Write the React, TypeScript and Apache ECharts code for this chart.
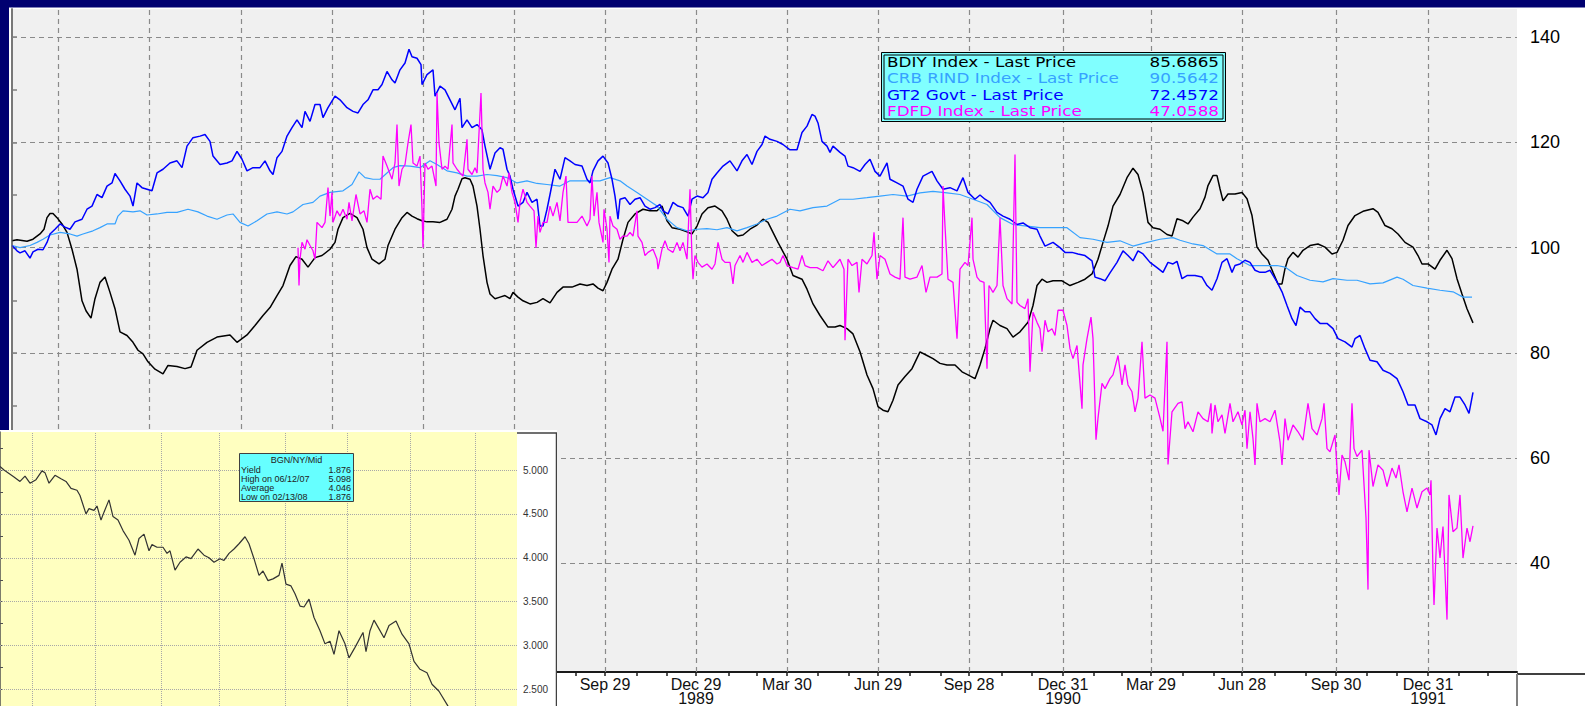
import React, { useEffect, useRef } from 'react';
import * as echarts from 'echarts';

// ---------- main chart data: [day offset from 1988-02-14, value] ----------
const BDIY: [number, number][] = [
  [0,101.3],[5,101.5],[15,101.2],[21,101.6],[28,102.6],[32,103.5],[35,105.7],[38,106.5],[41,106.5],[45,105.7],[50,104.5],[55,102.9],[60,99.7],[65,95.9],[70,89.9],[74,88.0],[79,86.6],[83,90.3],[88,93.4],[93,94.4],[98,91.5],[103,88.4],[108,84.0],[115,83.3],[121,82.0],[126,80.5],[131,79.8],[136,78.3],[143,76.9],[151,76.0],[156,77.6],[165,77.4],[173,77.0],[179,77.3],[185,80.5],[195,82.0],[205,83.0],[218,83.4],[225,82.0],[235,83.4],[243,85.2],[251,87.1],[258,88.6],[265,90.9],[271,92.8],[278,96.6],[284,98.3],[290,97.8],[296,96.3],[303,98.1],[310,98.5],[318,99.7],[323,101.0],[326,103.5],[331,105.7],[338,106.5],[345,105.7],[351,103.5],[355,100.0],[360,97.8],[367,96.9],[373,97.8],[376,100.4],[383,103.5],[390,105.7],[395,106.7],[400,106.0],[405,105.5],[410,105.1],[415,104.9],[421,104.9],[428,104.8],[435,105.4],[440,107.3],[443,109.8],[446,111.1],[450,113.1],[453,113.3],[458,113.0],[461,111.7],[465,107.9],[468,103.5],[471,98.5],[475,93.4],[478,91.2],[483,90.3],[488,90.6],[493,90.9],[498,90.3],[501,91.5],[506,90.6],[511,89.9],[518,89.3],[525,89.6],[531,90.3],[538,89.5],[545,91.5],[551,92.5],[560,92.5],[568,93.1],[575,92.8],[581,93.1],[586,92.3],[591,91.8],[595,93.4],[600,95.9],[606,97.8],[611,101.6],[616,104.8],[623,106.4],[631,107.3],[638,107.0],[645,107.0],[650,107.9],[655,105.1],[660,103.8],[668,103.5],[675,103.0],[680,102.6],[685,104.1],[690,106.4],[696,107.6],[703,107.9],[710,107.0],[715,105.4],[720,103.2],[726,102.2],[731,102.4],[738,103.5],[745,104.3],[751,105.4],[756,104.8],[761,102.9],[766,101.0],[775,97.8],[781,94.7],[790,94.0],[795,92.1],[801,89.3],[808,87.1],[816,84.9],[823,84.9],[828,85.2],[835,84.6],[841,83.6],[848,80.2],[855,75.8],[861,73.2],[866,69.8],[871,69.1],[876,68.8],[881,71.0],[886,73.9],[893,75.5],[900,77.0],[908,80.2],[915,79.5],[921,78.9],[928,78.0],[935,77.7],[943,77.7],[950,76.4],[956,75.8],[963,75.1],[968,77.7],[973,80.8],[978,84.6],[981,86.2],[988,85.2],[995,84.6],[1001,83.0],[1008,84.0],[1016,85.8],[1021,89.0],[1025,92.8],[1030,94.0],[1035,93.4],[1041,93.7],[1050,93.7],[1058,92.8],[1066,93.4],[1073,94.0],[1080,95.0],[1086,97.8],[1091,101.0],[1096,104.1],[1101,107.9],[1108,110.1],[1115,113.3],[1121,115.1],[1126,113.9],[1131,110.4],[1136,104.8],[1141,103.8],[1148,103.5],[1155,102.5],[1160,102.2],[1165,105.5],[1171,105.1],[1176,104.5],[1181,105.8],[1188,107.4],[1193,109.6],[1196,111.8],[1201,113.7],[1205,113.7],[1208,111.2],[1211,108.9],[1216,110.2],[1223,110.2],[1230,110.5],[1235,109.3],[1240,106.1],[1245,100.1],[1250,98.8],[1256,97.6],[1261,95.3],[1266,93.1],[1270,93.1],[1273,96.0],[1276,97.9],[1281,99.1],[1286,98.2],[1291,99.5],[1298,100.4],[1306,100.7],[1313,100.1],[1320,98.8],[1325,99.1],[1331,101.4],[1336,104.2],[1343,106.1],[1351,106.9],[1361,107.4],[1366,106.7],[1373,104.2],[1380,103.6],[1386,102.6],[1393,101.0],[1401,100.1],[1406,98.5],[1410,96.9],[1416,96.9],[1423,95.9],[1428,97.6],[1435,99.5],[1440,97.9],[1445,94.1],[1450,91.2],[1455,88.4],[1461,85.7],
];

const CRB: [number, number][] = [
  [0,100.4],[8,100.0],[18,100.4],[25,101.0],[31,101.6],[38,102.4],[48,102.9],[58,102.6],[65,102.2],[71,102.6],[81,103.2],[88,103.8],[95,104.5],[103,104.5],[106,106.0],[111,107.0],[121,106.8],[128,107.0],[135,106.2],[145,106.4],[155,106.7],[165,106.7],[176,107.3],[186,106.8],[195,106.0],[205,105.4],[215,106.2],[221,106.4],[228,104.8],[236,104.1],[245,105.1],[255,106.4],[265,106.8],[275,106.4],[281,106.8],[291,108.2],[301,108.6],[308,109.8],[318,110.5],[331,110.8],[340,112.0],[347,114.4],[353,113.3],[361,113.0],[368,113.0],[375,114.2],[381,115.2],[388,115.6],[398,115.5],[408,115.2],[418,116.5],[425,115.8],[435,114.6],[445,114.2],[455,113.6],[465,113.6],[475,113.9],[485,113.7],[495,113.3],[505,112.3],[515,112.7],[525,112.2],[535,112.0],[548,111.7],[558,112.7],[568,112.7],[578,112.7],[588,112.7],[598,113.3],[608,112.7],[615,111.7],[625,110.5],[635,109.2],[645,107.9],[655,105.4],[665,103.8],[675,103.2],[685,103.5],[695,103.6],[705,103.4],[715,103.8],[725,103.2],[735,103.8],[745,104.5],[755,105.4],[765,106.0],[778,107.3],[788,107.0],[801,107.6],[815,107.9],[828,109.2],[841,109.2],[855,109.5],[868,109.8],[881,110.1],[895,109.8],[908,110.4],[921,110.7],[935,110.4],[948,110.1],[961,109.2],[975,108.2],[988,105.7],[1001,104.4],[1015,104.1],[1028,103.8],[1041,103.8],[1055,103.8],[1068,101.9],[1081,101.6],[1095,101.0],[1108,101.3],[1121,100.3],[1135,101.0],[1148,101.6],[1161,101.9],[1168,101.4],[1181,100.7],[1191,100.4],[1205,98.8],[1218,98.8],[1225,97.9],[1238,96.6],[1251,96.6],[1265,96.6],[1273,96.3],[1285,94.7],[1298,93.8],[1311,93.5],[1321,94.1],[1335,93.8],[1345,93.8],[1358,93.1],[1371,93.3],[1385,94.4],[1391,94.0],[1401,92.8],[1415,92.3],[1428,91.9],[1441,91.6],[1451,90.6],[1460,90.6],
];

const GT2: [number, number][] = [
  [0,100.4],[5,99.4],[8,99.0],[13,99.4],[18,98.0],[21,99.2],[26,99.7],[31,99.6],[35,101.0],[38,102.6],[43,103.5],[48,104.5],[53,103.9],[58,103.5],[63,104.9],[70,105.4],[75,107.3],[80,107.9],[85,110.1],[90,109.5],[95,111.7],[100,112.3],[103,114.1],[108,112.7],[113,111.1],[118,109.8],[121,107.9],[125,112.3],[130,111.4],[135,111.1],[140,110.8],[145,114.2],[151,114.9],[158,116.1],[165,116.5],[170,115.2],[175,119.3],[181,120.9],[188,121.2],[193,121.5],[198,120.2],[201,117.4],[208,115.8],[215,116.1],[220,116.5],[225,118.3],[230,116.8],[235,114.6],[241,115.2],[248,115.2],[253,116.5],[258,114.6],[261,113.9],[265,117.1],[270,118.3],[275,121.2],[280,122.8],[285,124.3],[290,122.8],[293,125.9],[298,124.0],[303,127.2],[308,127.2],[311,124.7],[316,126.6],[323,128.8],[328,128.1],[335,126.6],[341,125.9],[346,125.6],[351,127.2],[356,128.1],[361,130.0],[366,130.0],[370,131.0],[375,133.5],[380,131.9],[383,131.3],[388,133.8],[393,135.1],[397,137.7],[400,136.3],[405,136.0],[409,134.8],[410,131.0],[415,132.9],[421,133.8],[423,128.8],[428,130.7],[433,130.0],[438,128.1],[443,126.2],[448,128.4],[450,122.8],[455,124.3],[460,122.8],[465,123.4],[470,122.4],[473,119.3],[478,114.9],[483,118.0],[488,119.0],[491,118.7],[495,114.9],[498,113.6],[501,111.1],[506,107.9],[511,108.6],[515,110.5],[520,108.6],[525,109.2],[528,104.1],[531,104.1],[535,107.3],[538,110.1],[543,114.9],[548,113.0],[553,117.1],[558,116.5],[563,115.8],[570,115.5],[575,113.0],[578,112.3],[581,114.6],[586,116.5],[591,117.4],[596,116.1],[600,113.0],[603,109.8],[606,105.4],[608,109.2],[613,109.5],[618,108.2],[623,109.2],[628,109.5],[633,107.9],[638,107.3],[643,107.6],[648,108.2],[651,107.0],[656,106.4],[661,108.6],[666,107.9],[671,107.6],[676,106.0],[680,109.2],[685,109.8],[691,109.5],[696,110.5],[700,113.0],[705,114.2],[711,115.5],[718,116.5],[725,114.6],[730,116.5],[735,117.7],[740,115.8],[745,118.3],[750,119.6],[753,121.2],[758,120.6],[765,120.2],[771,119.6],[778,118.6],[785,118.6],[790,121.9],[795,123.1],[800,125.3],[803,125.0],[806,123.7],[810,120.2],[815,119.3],[818,118.1],[821,119.3],[828,118.1],[833,117.4],[836,115.5],[841,115.2],[848,114.5],[853,115.8],[858,116.8],[863,114.5],[868,113.6],[875,116.1],[878,113.0],[885,112.3],[891,111.7],[896,109.2],[901,108.6],[905,111.1],[911,113.6],[920,114.5],[925,112.7],[931,111.1],[938,111.4],[945,110.8],[951,113.3],[956,110.5],[963,109.2],[968,110.0],[973,109.2],[978,108.6],[985,106.7],[991,106.0],[998,105.4],[1005,104.4],[1011,104.7],[1018,103.8],[1025,103.5],[1028,102.2],[1033,100.3],[1041,101.0],[1048,100.0],[1053,99.1],[1060,99.1],[1066,98.8],[1073,98.5],[1080,97.5],[1083,94.4],[1088,94.1],[1093,93.7],[1098,95.2],[1105,97.2],[1111,99.4],[1116,98.5],[1121,97.5],[1126,99.4],[1131,98.8],[1138,97.2],[1145,96.2],[1151,95.3],[1156,97.2],[1161,96.9],[1165,97.4],[1170,94.1],[1175,94.7],[1183,94.7],[1190,94.4],[1195,92.8],[1200,91.9],[1205,94.1],[1210,97.2],[1215,97.9],[1220,95.3],[1223,96.6],[1228,96.9],[1233,97.6],[1238,97.2],[1243,95.7],[1248,95.3],[1253,95.3],[1258,95.7],[1265,93.5],[1270,91.6],[1275,89.0],[1280,86.5],[1284,85.2],[1288,88.7],[1293,87.8],[1298,87.8],[1303,86.5],[1308,85.6],[1315,85.6],[1321,84.6],[1326,82.7],[1333,82.1],[1340,81.1],[1343,82.7],[1348,83.3],[1353,80.8],[1358,78.6],[1365,78.3],[1371,76.7],[1378,76.1],[1385,75.1],[1391,72.6],[1396,70.1],[1403,70.1],[1408,67.5],[1415,66.9],[1420,66.3],[1424,64.4],[1428,67.5],[1433,69.4],[1438,68.8],[1443,71.6],[1448,71.6],[1453,70.1],[1457,68.5],[1461,72.5],
];

const FDFD: [number, number][] = [
  [286,100.0],[287,92.8],[288,97.8],[290,101.0],[293,99.7],[295,101.5],[298,100.4],[301,99.4],[303,97.8],[305,104.8],[310,103.8],[313,104.8],[316,111.4],[318,106.0],[320,110.5],[321,104.8],[325,107.0],[328,106.0],[331,107.3],[335,105.4],[337,108.6],[340,105.1],[344,110.1],[348,106.4],[352,107.0],[355,104.8],[358,111.1],[361,109.2],[365,109.8],[369,109.2],[371,117.4],[375,115.5],[380,113.0],[383,116.1],[385,123.4],[387,111.7],[390,114.9],[393,115.8],[396,119.9],[399,123.4],[401,116.1],[405,115.5],[408,117.4],[410,107.3],[411,100.0],[413,116.1],[416,114.9],[420,115.5],[424,111.7],[425,129.4],[427,119.9],[430,114.9],[433,115.5],[436,114.9],[440,123.4],[441,116.1],[445,114.9],[448,114.2],[451,113.6],[455,120.6],[456,114.9],[460,113.9],[463,115.2],[465,114.2],[467,121.8],[469,129.4],[471,114.9],[473,112.3],[476,110.5],[478,107.3],[481,111.7],[485,110.5],[488,111.1],[491,113.6],[495,111.7],[497,114.2],[500,110.5],[503,108.6],[506,104.8],[508,108.6],[511,111.1],[515,108.6],[518,107.9],[522,107.0],[524,100.0],[526,106.0],[528,102.9],[531,104.8],[535,104.8],[538,107.9],[541,106.0],[545,108.6],[548,105.1],[551,110.5],[554,113.6],[556,104.8],[560,104.8],[565,104.8],[570,106.0],[575,104.1],[578,105.4],[580,113.6],[582,106.0],[585,110.5],[587,104.8],[591,101.0],[592,107.3],[595,103.5],[597,97.2],[598,106.0],[601,104.1],[605,103.5],[608,101.6],[611,102.2],[615,102.2],[618,102.9],[621,102.2],[625,107.0],[626,102.2],[630,101.0],[633,98.5],[636,99.1],[641,99.7],[645,97.8],[646,95.9],[650,99.7],[653,101.3],[656,99.7],[661,99.1],[665,101.0],[668,99.4],[671,101.0],[675,97.8],[678,111.1],[680,97.8],[681,94.0],[683,98.5],[686,97.2],[690,96.3],[695,96.9],[700,95.9],[703,96.9],[706,101.0],[710,97.8],[713,97.2],[718,97.2],[721,93.1],[723,96.6],[728,98.5],[731,97.2],[735,99.1],[740,97.2],[745,97.8],[750,96.6],[755,97.2],[760,97.8],[765,96.9],[768,97.2],[771,98.5],[775,96.6],[781,96.2],[786,95.9],[790,98.5],[793,96.6],[798,96.2],[805,96.2],[811,95.6],[816,97.5],[821,96.2],[828,97.8],[832,95.9],[833,82.4],[836,97.8],[840,96.6],[845,97.2],[847,91.5],[850,97.8],[855,96.9],[860,98.5],[862,102.9],[865,94.0],[868,98.5],[873,97.8],[878,95.0],[883,94.4],[888,94.0],[891,105.7],[893,94.4],[898,94.0],[905,94.4],[910,96.6],[914,91.5],[918,94.4],[925,94.4],[930,95.0],[931,111.7],[933,104.1],[936,94.0],[941,93.4],[945,82.7],[948,95.9],[953,97.2],[956,96.6],[960,105.7],[961,97.8],[965,94.4],[968,93.7],[972,93.4],[975,77.0],[977,92.8],[981,91.5],[985,92.8],[988,105.7],[991,92.8],[995,90.3],[1000,89.3],[1003,117.7],[1005,89.6],[1008,89.0],[1013,88.4],[1016,90.3],[1018,76.4],[1021,87.7],[1025,85.8],[1028,84.6],[1030,80.2],[1033,86.2],[1036,84.0],[1040,84.6],[1043,83.3],[1046,88.1],[1051,88.1],[1055,85.2],[1058,80.8],[1061,78.9],[1065,81.4],[1070,69.4],[1071,77.7],[1075,82.7],[1079,86.8],[1081,82.7],[1084,63.5],[1086,67.6],[1090,74.2],[1093,73.2],[1098,75.1],[1101,75.8],[1106,79.5],[1110,73.9],[1113,77.7],[1116,73.9],[1120,72.6],[1123,68.8],[1126,71.4],[1130,82.1],[1133,71.4],[1138,72.0],[1143,71.4],[1148,67.6],[1151,65.1],[1155,82.1],[1156,58.8],[1160,68.8],[1166,70.4],[1170,70.7],[1173,65.6],[1176,66.9],[1181,65.0],[1186,68.8],[1191,67.5],[1196,66.9],[1199,70.4],[1200,64.7],[1203,70.1],[1206,66.9],[1210,68.2],[1213,64.7],[1218,70.4],[1221,66.9],[1226,68.8],[1230,66.3],[1233,69.1],[1235,61.8],[1238,68.8],[1241,63.7],[1243,58.7],[1245,70.4],[1248,66.9],[1253,67.5],[1258,66.9],[1263,69.1],[1268,63.1],[1270,58.7],[1273,67.5],[1276,63.4],[1281,66.3],[1286,65.0],[1291,63.4],[1296,70.4],[1300,65.6],[1305,64.4],[1310,67.5],[1312,70.4],[1315,61.8],[1318,61.2],[1323,64.4],[1325,58.1],[1327,53.0],[1330,60.6],[1333,59.3],[1337,55.8],[1340,70.4],[1342,61.8],[1345,60.3],[1350,61.5],[1354,48.6],[1356,35.0],[1357,61.5],[1361,54.6],[1366,58.7],[1371,57.7],[1375,54.6],[1380,58.1],[1384,56.2],[1387,58.7],[1391,53.6],[1395,49.8],[1400,54.3],[1405,50.5],[1410,53.6],[1415,54.3],[1418,53.0],[1419,55.8],[1421,38.5],[1422,32.1],[1425,46.7],[1428,41.0],[1431,47.0],[1435,29.3],[1437,53.0],[1441,46.0],[1445,46.7],[1448,53.0],[1451,41.0],[1455,46.7],[1458,44.1],[1461,47.1],
];

// legend
const LEGEND_NAMES = ['BDIY Index - Last Price', 'CRB RIND Index - Last Price', 'GT2 Govt - Last Price', 'FDFD Index - Last Price'];
const LEGEND_VALUES = ['85.6865', '90.5642', '72.4572', '47.0588'];
const SERIES_COLORS = ['#000000', '#36a2ff', '#0000ff', '#ff00ff'];

// axes
const QUARTER_DATES = ['1988-03-31','1988-06-30','1988-09-30','1988-12-30','1989-03-31','1989-06-30','1989-09-29','1989-12-29','1990-03-30','1990-06-29','1990-09-28','1990-12-31','1991-03-29','1991-06-28','1991-09-30','1991-12-31'];
const X_LABEL_DATES = ['1989-09-29','1989-12-29','1990-03-30','1990-06-29','1990-09-28','1990-12-31','1991-03-29','1991-06-28','1991-09-30','1991-12-31'];
const X_LABEL_TEXTS = ['Sep 29','Dec 29\n1989','Mar 30','Jun 29','Sep 28','Dec 31\n1990','Mar 29','Jun 28','Sep 30','Dec 31\n1991'];
const Y_LABELS = [40, 60, 80, 100, 120, 140];
const Y_TICKS = [30, 40, 50, 60, 70, 80, 90, 100, 110, 120, 130, 140];

// ---------- inset (BGN/NY/Mid) ----------
const BGN: [number, number][] = [
  [0,5.04],[4,5.00],[9,4.96],[14,4.92],[20,4.87],[25,4.93],[30,4.85],[36,4.89],[42,4.99],[45,4.97],[49,4.85],[55,4.94],[61,4.90],[66,4.87],[71,4.79],[77,4.77],[80,4.71],[86,4.50],[89,4.56],[94,4.54],[97,4.59],[101,4.43],[104,4.52],[109,4.66],[113,4.47],[118,4.43],[123,4.31],[129,4.20],[135,4.03],[139,4.22],[144,4.27],[149,4.08],[152,4.15],[157,4.12],[163,4.12],[167,4.05],[170,4.08],[175,3.86],[180,3.95],[186,4.01],[191,3.99],[198,4.10],[204,4.03],[209,4.00],[214,3.95],[220,3.99],[224,3.97],[229,4.05],[234,4.10],[239,4.16],[245,4.24],[249,4.16],[254,3.99],[259,3.80],[263,3.85],[268,3.74],[273,3.76],[279,3.80],[282,3.94],[286,3.70],[291,3.68],[295,3.59],[300,3.45],[304,3.44],[309,3.53],[314,3.32],[320,3.17],[325,3.02],[330,3.05],[334,2.90],[339,3.17],[345,3.02],[349,2.86],[355,2.98],[363,3.15],[366,2.93],[370,3.17],[374,3.29],[379,3.19],[384,3.09],[389,3.23],[396,3.28],[402,3.13],[409,3.02],[414,2.82],[420,2.73],[427,2.69],[432,2.56],[439,2.48],[448,2.31],[454,2.25],
];
const INSET_GRID_X = [32, 95, 161, 219, 285, 347, 410, 475];
const INSET_LABELS = [2.5, 3.0, 3.5, 4.0, 4.5, 5.0];
const INSET_TICKS = [2.5, 2.75, 3.0, 3.25, 3.5, 3.75, 4.0, 4.25, 4.5, 4.75, 5.0, 5.25];
const INSET_TITLE = 'BGN/NY/Mid';
const INSET_ROWS_LEFT = ['Yield', 'High on 06/12/07', 'Average', 'Low on 02/13/08'];
const INSET_ROWS_RIGHT = ['1.876', '5.098', '4.046', '1.876'];

const W = 1585;
const H = 706;
const NAVY = '#000070';
const SANS = '"Liberation Sans", Arial, sans-serif';
const LEGEND_FONT = '"DejaVu Sans", Verdana, sans-serif';

function dayOf(iso: string): number {
  const [y, m, d] = iso.split('-').map(Number);
  return Math.round((Date.UTC(y, m - 1, d) - Date.UTC(1988, 1, 14)) / 86400000);
}

function monthTicks(): number[] {
  const out: number[] = [];
  const qByMonth: Record<string, string> = {};
  QUARTER_DATES.forEach((q) => { qByMonth[q.slice(0, 7)] = q; });
  for (let y = 1988; y <= 1992; y++) {
    for (let m = 0; m < 12; m++) {
      const key = `${y}-${String(m + 1).padStart(2, '0')}`;
      let d: number;
      if (qByMonth[key]) d = dayOf(qByMonth[key]);
      else d = Math.round((Date.UTC(y, m + 1, 0) - Date.UTC(1988, 1, 14)) / 86400000);
      if (d > 0 && d < 1505) out.push(d);
    }
  }
  return out;
}

function buildMain() {
  const labelDays = X_LABEL_DATES.map(dayOf);
  const labelMap: Record<number, string> = {};
  labelDays.forEach((d, i) => { labelMap[d] = X_LABEL_TEXTS[i]; });
  const gridLines = [
    ...Y_LABELS.map((v) => ({ yAxis: v })),
    ...QUARTER_DATES.map((q) => ({ xAxis: dayOf(q) })),
  ];
  const seriesData = [BDIY, CRB, GT2, FDFD];
  const widths = [1.5, 1.2, 1.5, 1.3];
  const series: any[] = seriesData.map((data, i) => ({
    type: 'line',
    name: LEGEND_NAMES[i],
    data,
    showSymbol: false,
    symbol: 'none',
    z: 3,
    lineStyle: { color: SERIES_COLORS[i], width: widths[i] },
    silent: true,
  }));
  series.unshift({
    type: 'line',
    name: 'grid',
    data: [[0, 100]],
    showSymbol: false,
    symbol: 'none',
    lineStyle: { width: 0, opacity: 0 },
    z: 1,
    silent: true,
    markLine: {
      silent: true,
      z: 1,
      symbol: ['none', 'none'],
      label: { show: false },
      lineStyle: { color: '#8a8a8a', type: [5, 4], width: 1.2 },
      data: gridLines,
      animation: false,
    },
  });

  const legendTexts: any[] = [];
  const rowY = [62, 78.5, 95, 111.5];
  LEGEND_NAMES.forEach((n, i) => {
    legendTexts.push({
      type: 'text', x: 887, y: rowY[i], z: 21, scaleX: 1.2,
      style: { text: n, fill: SERIES_COLORS[i], fontFamily: LEGEND_FONT, fontSize: 14, lineHeight: 16, align: 'left', verticalAlign: 'middle' },
    });
    legendTexts.push({
      type: 'text', x: 1219, y: rowY[i], z: 21, scaleX: 1.2,
      style: { text: LEGEND_VALUES[i], fill: SERIES_COLORS[i], fontFamily: LEGEND_FONT, fontSize: 14, lineHeight: 16, align: 'right', verticalAlign: 'middle' },
    });
  });

  return {
    animation: false,
    backgroundColor: '#ffffff',
    textStyle: { fontFamily: SANS },
    grid: { left: 12, right: 68, top: 9, bottom: 32, show: true, backgroundColor: '#f0f0f0', borderWidth: 0 },
    xAxis: {
      type: 'value',
      min: 0,
      max: 1505,
      axisLine: { show: true, onZero: false, lineStyle: { color: '#1a1a1a', width: 2 } },
      axisTick: { show: true, customValues: monthTicks(), length: 4, lineStyle: { color: '#1a1a1a', width: 1.5 } },
      axisLabel: {
        customValues: labelDays,
        formatter: (v: number) => labelMap[Math.round(v)] ?? '',
        fontSize: 16,
        lineHeight: 14,
        color: '#111111',
        margin: 5,
        fontFamily: SANS,
      },
      splitLine: { show: false },
    },
    yAxis: {
      type: 'value',
      position: 'right',
      min: 19.34,
      max: 145.36,
      axisLine: { show: true, lineStyle: { color: '#808080', width: 2 } },
      axisTick: { show: true, customValues: Y_TICKS, length: 5, lineStyle: { color: '#808080', width: 1.5 } },
      axisLabel: { customValues: Y_LABELS, fontSize: 18, color: '#000000', margin: 13, fontFamily: SANS },
      splitLine: { show: false },
    },
    series,
    graphic: [
      { type: 'rect', z: 20, shape: { x: 0, y: 0, width: W, height: 7.5 }, style: { fill: NAVY } },
      { type: 'rect', z: 20, shape: { x: 0, y: 0, width: 9, height: H }, style: { fill: NAVY } },
      { type: 'line', z: 20, shape: { x1: 12, y1: 9, x2: 12, y2: 674 }, style: { stroke: '#707070', lineWidth: 1 } },
      { type: 'line', z: 20, shape: { x1: 1517, y1: 674, x2: W, y2: 674 }, style: { stroke: '#404040', lineWidth: 2 } },
      { type: 'line', z: 20, shape: { x1: 1517, y1: 674, x2: 1517, y2: H }, style: { stroke: '#808080', lineWidth: 2 } },
      { type: 'rect', z: 20, shape: { x: 881.5, y: 52.5, width: 344, height: 69 }, style: { fill: '#80ffff', stroke: '#000000', lineWidth: 1 } },
      { type: 'rect', z: 20, shape: { x: 884, y: 55, width: 339, height: 64 }, style: { fill: 'none', stroke: '#000000', lineWidth: 1 } },
      ...legendTexts,
    ],
  };
}

function buildInset() {
  const gridLines = [
    ...INSET_LABELS.map((v) => ({ yAxis: v })),
    ...INSET_GRID_X.map((x) => ({ xAxis: x })),
  ];
  const rowY = [39.5, 48.5, 57.5, 66.5];
  const legendTexts: any[] = [
    { type: 'text', x: 296.5, y: 29.5, z: 21, style: { text: INSET_TITLE, fill: '#222', fontFamily: SANS, fontSize: 9, lineHeight: 8.5, align: 'center', verticalAlign: 'middle' } },
  ];
  INSET_ROWS_LEFT.forEach((t, i) => {
    legendTexts.push({ type: 'text', x: 241, y: rowY[i], z: 21, style: { text: t, fill: '#222', fontFamily: SANS, fontSize: 9, lineHeight: 8.5, align: 'left', verticalAlign: 'middle' } });
    legendTexts.push({ type: 'text', x: 351, y: rowY[i], z: 21, style: { text: INSET_ROWS_RIGHT[i], fill: '#222', fontFamily: SANS, fontSize: 9, lineHeight: 8.5, align: 'right', verticalAlign: 'middle' } });
  });
  return {
    animation: false,
    backgroundColor: '#ffffff',
    textStyle: { fontFamily: SANS },
    grid: { left: 0, right: 40, top: 2, bottom: 0, show: true, backgroundColor: '#ffffc0', borderWidth: 0 },
    xAxis: { type: 'value', min: 0, max: 517, show: false },
    yAxis: {
      type: 'value',
      position: 'right',
      min: 2.312,
      max: 5.433,
      axisLine: { show: true, lineStyle: { color: '#505050', width: 1.5 } },
      axisTick: { show: true, customValues: INSET_TICKS, length: 3, lineStyle: { color: '#505050' } },
      axisLabel: { customValues: INSET_LABELS, formatter: (v: number) => v.toFixed(3), fontSize: 10, color: '#333333', margin: 6, fontFamily: SANS },
      splitLine: { show: false },
    },
    series: [
      {
        type: 'line',
        data: BGN,
        showSymbol: false,
        symbol: 'none',
        z: 3,
        silent: true,
        lineStyle: { color: '#333333', width: 1.2 },
        markLine: {
          silent: true,
          z: 1,
          symbol: ['none', 'none'],
          label: { show: false },
          lineStyle: { color: '#a8a8a8', type: 'dotted', width: 1 },
          data: gridLines,
          animation: false,
        },
      },
    ],
    graphic: [
      { type: 'line', z: 20, shape: { x1: 517, y1: 3, x2: 557, y2: 3 }, style: { stroke: '#404040', lineWidth: 1.5 } },
      { type: 'line', z: 20, shape: { x1: 556.5, y1: 3, x2: 556.5, y2: 276 }, style: { stroke: '#404040', lineWidth: 1.5 } },
      { type: 'rect', z: 20, shape: { x: 239.5, y: 23.5, width: 114, height: 48 }, style: { fill: '#66ffff', stroke: '#404040', lineWidth: 1 } },
      ...legendTexts,
    ],
  };
}

export default function App() {
  const mainRef = useRef<HTMLDivElement>(null);
  const insetRef = useRef<HTMLDivElement>(null);
  useEffect(() => {
    const main = echarts.init(mainRef.current as HTMLDivElement, null, { renderer: 'svg' });
    main.setOption(buildMain() as any);
    const inset = echarts.init(insetRef.current as HTMLDivElement, null, { renderer: 'svg' });
    inset.setOption(buildInset() as any);
    return () => {
      main.dispose();
      inset.dispose();
    };
  }, []);
  return (
    <div style={{ position: 'fixed', left: 0, top: 0, width: W, height: H, overflow: 'hidden', background: '#ffffff' }}>
      <div ref={mainRef} style={{ position: 'absolute', left: 0, top: 0, width: W, height: H }} />
      <div ref={insetRef} style={{ position: 'absolute', left: 0, top: 430, width: 557, height: 276 }} />
    </div>
  );
}
